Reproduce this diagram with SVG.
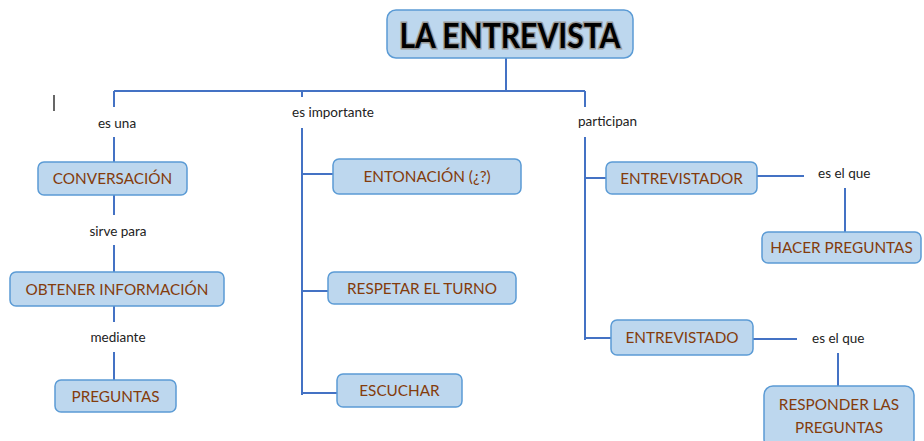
<svg xmlns="http://www.w3.org/2000/svg" width="924" height="441" viewBox="0 0 924 441">
<style>
.box{fill:#bdd7ee;stroke:#5b9bd5;stroke-width:1.5}
.nt{font-family:Lato,"Open Sans",sans-serif;font-size:15.3px;fill:#843c0c;text-anchor:middle}
.lb{font-family:Lato,"Open Sans",sans-serif;font-size:13.5px;fill:#222}
.ln{stroke:#4472c4;stroke-width:2;fill:none}
</style>
<rect width="924" height="441" fill="#fff"/>
<g id="connectors">
<path class="ln" d="M506 58V91M114 91H585M114 91V107M114 137V162M114 195V215M114 245V272M114 306V322M114 352V380"/>
<path class="ln" d="M302 91V97M302 128V395M302 174H333M302 291H328M302 393H337"/>
<path class="ln" d="M585 91V107M585 137V340M585 178H606M585 338H611M757 176H804M845 188V232M753 339H797M838 353V386"/>
</g>
<line x1="54" y1="95" x2="54" y2="111" stroke="#000" stroke-width="1.2"/>
<g id="title">
<rect x="387" y="10" width="246" height="48" rx="9" class="box"/>
<text x="510" y="48" font-family="Lato,'Open Sans',sans-serif" font-size="34" font-weight="bold" text-anchor="middle" fill="#000" stroke="#999" stroke-width="3" paint-order="stroke" textLength="221" lengthAdjust="spacingAndGlyphs">LA ENTREVISTA</text>
</g>
<g id="lbl-esuna"><text class="lb" x="117" y="128" text-anchor="middle">es una</text></g>
<g id="lbl-sirve"><text class="lb" x="118" y="236" text-anchor="middle">sirve para</text></g>
<g id="lbl-mediante"><text class="lb" x="118" y="342" text-anchor="middle">mediante</text></g>
<g id="lbl-importante"><text class="lb" x="292" y="117">es importante</text></g>
<g id="lbl-participan"><text class="lb" x="578" y="126">participan</text></g>
<g id="lbl-esque1"><text class="lb" x="818" y="178">es el que</text></g>
<g id="lbl-esque2"><text class="lb" x="812" y="343">es el que</text></g>
<g id="n-conversacion"><rect x="38" y="162" width="149" height="33" rx="6" class="box"/><text class="nt" x="112.5" y="184">CONVERSACIÓN</text></g>
<g id="n-obtener"><rect x="10" y="272" width="214" height="34" rx="6" class="box"/><text class="nt" x="117" y="295">OBTENER INFORMACIÓN</text></g>
<g id="n-preguntas"><rect x="55" y="380" width="121" height="32" rx="6" class="box"/><text class="nt" x="115.5" y="402">PREGUNTAS</text></g>
<g id="n-entonacion"><rect x="333" y="159" width="188" height="35" rx="6" class="box"/><text class="nt" x="427" y="182">ENTONACIÓN (¿?)</text></g>
<g id="n-respetar"><rect x="328" y="272" width="188" height="32" rx="6" class="box"/><text class="nt" x="422" y="294">RESPETAR EL TURNO</text></g>
<g id="n-escuchar"><rect x="337" y="374" width="125" height="33" rx="6" class="box"/><text class="nt" x="399.5" y="396">ESCUCHAR</text></g>
<g id="n-entrevistador"><rect x="606" y="162" width="151" height="32" rx="6" class="box"/><text class="nt" x="681.5" y="184">ENTREVISTADOR</text></g>
<g id="n-hacer"><rect x="762" y="232" width="159" height="31" rx="6" class="box"/><text class="nt" x="841.5" y="253">HACER PREGUNTAS</text></g>
<g id="n-entrevistado"><rect x="611" y="320" width="142" height="35" rx="6" class="box"/><text class="nt" x="682" y="343">ENTREVISTADO</text></g>
<g id="n-responder"><rect x="764" y="386" width="150" height="62" rx="9" class="box"/><text class="nt" x="839" y="410">RESPONDER LAS</text><text class="nt" x="839" y="433">PREGUNTAS</text></g>
</svg>
